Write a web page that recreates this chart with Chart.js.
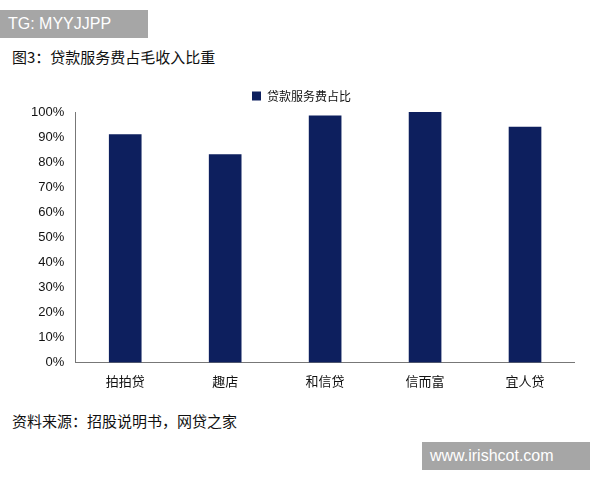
<!DOCTYPE html>
<html>
<head>
<meta charset="utf-8">
<script src="https://cdn.jsdelivr.net/npm/chart.js@4"></script>
<style>
  body { margin: 0; background: #fff; font-family: "Noto Sans CJK SC", sans-serif; }
  #wrap { position: relative; width: 600px; height: 480px; }
  .tag { position: absolute; background: #a6a6a6; color: #fff; font-family: "Liberation Sans", sans-serif; font-size: 16px; }
  #title { position: absolute; left: 12px; top: 46px; font-size: 15px; color: #111; }
  #source { position: absolute; left: 12px; top: 410px; font-size: 15px; color: #111; }
  #chartBox { position: absolute; left: 28px; top: 80px; width: 547px; height: 312px; }
</style>
</head>
<body>
<div id="wrap">
  <div class="tag" style="left:0;top:10px;width:140px;height:28px;line-height:28px;padding-left:8px;">TG: MYYJJPP</div>
  <div id="title">图3：贷款服务费占毛收入比重</div>
  <div id="chartBox"><canvas id="c"></canvas></div>
  <div id="source">资料来源：招股说明书，网贷之家</div>
  <div class="tag" style="left:422px;top:442px;width:160px;height:28px;line-height:28px;padding-left:8px;">www.irishcot.com</div>
</div>
<script>
// chart data
const categories = ['拍拍贷', '趣店', '和信贷', '信而富', '宜人贷'];
const shareValues = [91, 83, 98.5, 100, 94];
const seriesLabel = '贷款服务费占比';

const ctx = document.getElementById('c').getContext('2d');
new Chart(ctx, {
    type: 'bar',
    data: {
        labels: categories,
        datasets: [{
            label: seriesLabel,
            data: shareValues,
            backgroundColor: '#0d1f5e',
            barThickness: 32
        }]
    },
    options: {
        responsive: true,
        maintainAspectRatio: false,
        animation: false,
        scales: {
            x: {
                grid: { display: false },
                border: { color: '#777' },
                ticks: { color: '#111', font: { size: 13, family: 'Noto Sans CJK SC' } }
            },
            y: {
                min: 0,
                max: 100,
                ticks: {
                    stepSize: 10,
                    color: '#111',
                    font: { size: 13, family: 'Liberation Sans' },
                    callback: v => v + '%'
                },
                grid: { display: false },
                border: { color: '#777' }
            }
        },
        plugins: {
            legend: {
                labels: {
                    boxWidth: 9,
                    boxHeight: 9,
                    color: '#111',
                    font: { size: 12, family: 'Noto Sans CJK SC' }
                }
            },
            tooltip: { enabled: false }
        }
    }
});
</script>
</body>
</html>
